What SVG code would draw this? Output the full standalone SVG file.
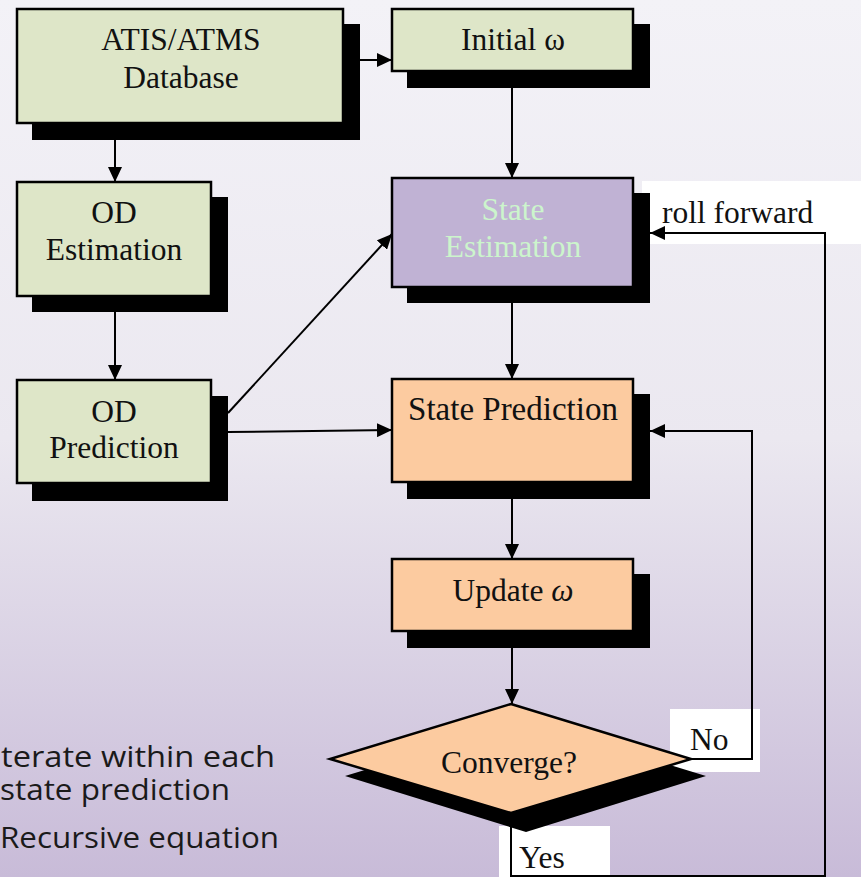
<svg xmlns="http://www.w3.org/2000/svg" width="861" height="877" viewBox="0 0 861 877">
<defs>
<linearGradient id="bg" x1="0" y1="0" x2="0" y2="1">
<stop offset="0" stop-color="#f3f2f7"/>
<stop offset="0.5" stop-color="#ebe8f0"/>
<stop offset="1" stop-color="#c8bbd8"/>
</linearGradient>
<marker id="ah" viewBox="0 0 15 14" refX="15" refY="7" markerWidth="15" markerHeight="14" orient="auto" markerUnits="userSpaceOnUse">
<path d="M0,0 L15,7 L0,14 Z" fill="#000"/>
</marker>
<style>
.sh{fill:#000}
.box{stroke:#000;stroke-width:2.5}
.g{fill:#dee6c8}
.p{fill:#c0b2d4}
.o{fill:#fccba0}
.t{font-family:"Liberation Serif","Times New Roman",serif;font-size:31.5px;fill:#111;text-anchor:middle}
.lbl{font-family:"Liberation Serif","Times New Roman",serif;font-size:31.5px;fill:#111}
.c{fill:none;stroke:#000;stroke-width:2}
.bul{font-family:"Open Sans","Noto Sans",sans-serif;font-size:29px;fill:#1a1a1a}
</style>
</defs>
<rect x="0" y="0" width="861" height="877" fill="url(#bg)"/>

<g id="bullets">
<text class="bul" x="1" y="767" textLength="274" lengthAdjust="spacingAndGlyphs">terate within each</text>
<text class="bul" x="0" y="800" textLength="230" lengthAdjust="spacingAndGlyphs">state prediction</text>
<text class="bul" x="0" y="848" textLength="279" lengthAdjust="spacingAndGlyphs">Recursive equation</text>
</g>

<g id="labels-bg">
<rect x="642" y="181" width="219" height="63" fill="#fff"/>
<rect x="670" y="709" width="90" height="63" fill="#fff"/>
<rect x="499" y="826" width="111" height="51" fill="#fff"/>
</g>

<g id="connectors">
<line class="c" x1="360" y1="60" x2="392" y2="60" marker-end="url(#ah)"/>
<line class="c" x1="115" y1="140" x2="115" y2="182" marker-end="url(#ah)"/>
<line class="c" x1="115" y1="312" x2="115" y2="380" marker-end="url(#ah)"/>
<line class="c" x1="512" y1="88" x2="512" y2="178" marker-end="url(#ah)"/>
<line class="c" x1="228" y1="413" x2="392" y2="234" marker-end="url(#ah)"/>
<line class="c" x1="228" y1="432" x2="392" y2="430" marker-end="url(#ah)"/>
<line class="c" x1="512" y1="303" x2="512" y2="379" marker-end="url(#ah)"/>
<line class="c" x1="512" y1="499" x2="512" y2="559" marker-end="url(#ah)"/>
<line class="c" x1="512" y1="631" x2="512" y2="704" marker-end="url(#ah)"/>
<polyline class="c" points="690,759 752,759 752,431 650,431" marker-end="url(#ah)"/>
<polyline class="c" points="511,813 511,876 825,876 825,233 650,233" marker-end="url(#ah)"/>
</g>

<g id="atis">
<rect class="sh" x="32" y="24" width="328" height="116"/>
<rect class="box g" x="17" y="9" width="326" height="114"/>
<text class="t" x="181" y="50">ATIS/ATMS</text>
<text class="t" x="181" y="88">Database</text>
</g>

<g id="initial">
<rect class="sh" x="407" y="24" width="243" height="64"/>
<rect class="box g" x="392" y="9" width="241" height="62"/>
<text class="t" x="513" y="50">Initial ω</text>
</g>

<g id="od-est">
<rect class="sh" x="32" y="197" width="196" height="115"/>
<rect class="box g" x="17" y="182" width="194" height="114"/>
<text class="t" x="114" y="223">OD</text>
<text class="t" x="114" y="260">Estimation</text>
</g>

<g id="state-est">
<rect class="sh" x="407" y="193" width="243" height="110"/>
<rect class="box p" x="392" y="178" width="241" height="109"/>
<text class="t" x="513" y="220" style="fill:#ccf5cc">State</text>
<text class="t" x="513" y="257" style="fill:#ccf5cc">Estimation</text>
</g>

<g id="od-pred">
<rect class="sh" x="32" y="396" width="196" height="105"/>
<rect class="box g" x="17" y="380" width="194" height="103"/>
<text class="t" x="114" y="422">OD</text>
<text class="t" x="114" y="458">Prediction</text>
</g>

<g id="state-pred">
<rect class="sh" x="407" y="394" width="243" height="105"/>
<rect class="box o" x="392" y="379" width="241" height="103"/>
<text class="t" x="513" y="420" style="font-size:33px">State Prediction</text>
</g>

<g id="update">
<rect class="sh" x="407" y="574" width="243" height="74"/>
<rect class="box o" x="392" y="559" width="241" height="72"/>
<text class="t" x="513" y="601">Update <tspan font-style="italic">ω</tspan></text>
</g>

<g id="converge">
<polygon class="sh" points="526,721 706,776 526,832 345,776"/>
<polygon class="box o" points="511,704 691,759 511,813 330,759"/>
<text class="t" x="509" y="773">Converge?</text>
</g>

<g id="edge-labels">
<text class="lbl" x="662" y="223">roll forward</text>
<text class="lbl" x="690" y="750">No</text>
<text class="lbl" x="519" y="868">Yes</text>
</g>
</svg>
